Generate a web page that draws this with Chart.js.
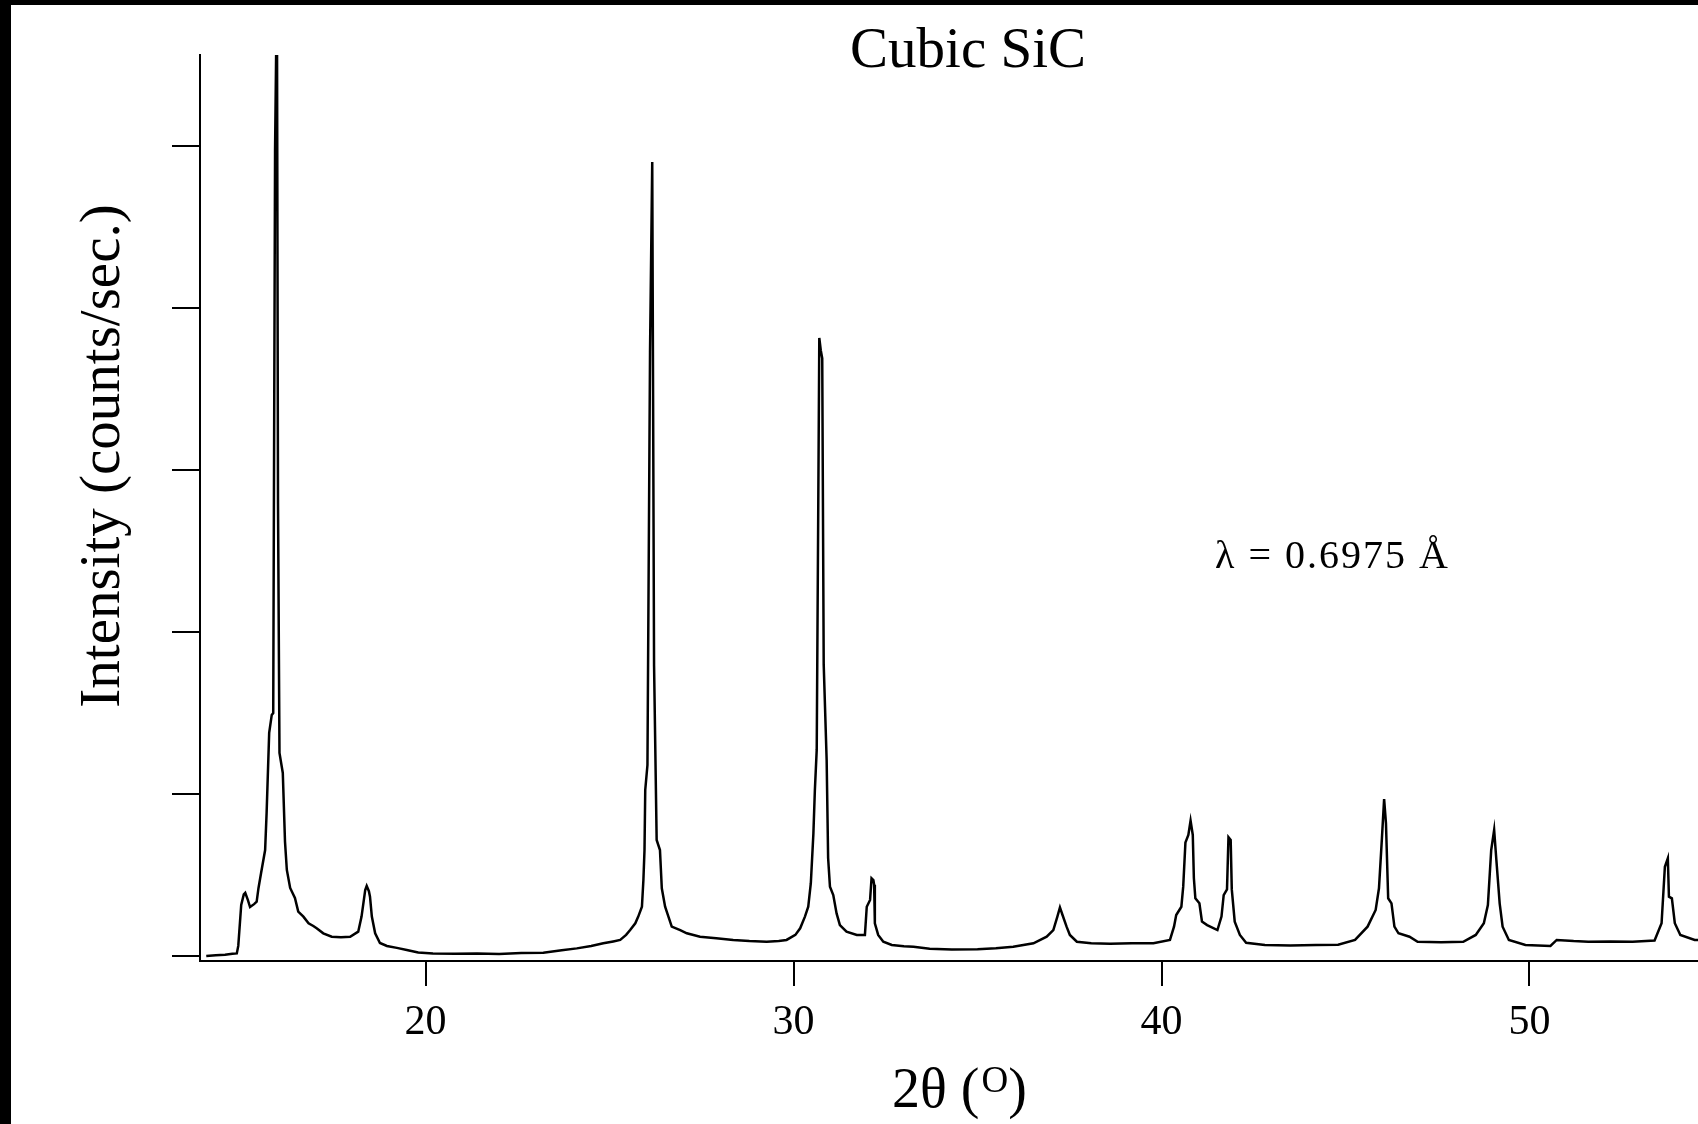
<!DOCTYPE html>
<html>
<head>
    <meta charset="utf-8" />
    <title>Cubic SiC</title>
    <script src="https://cdn.jsdelivr.net/npm/chart.js@4.4.1/dist/chart.umd.min.js"></script>
    <style>
        body, html {
            margin: 0;
            padding: 0;
            background: white;
            overflow: hidden;
        }
        canvas {
            display: block;
            background: white;
        }
    </style>
</head>
<body>
    <canvas id="xrdChart" width="1698" height="1124"></canvas>

    <script>
        // 2-theta (degrees)
        const twoTheta = [
            14.04, 14.30, 14.55, 14.75, 14.87, 14.91, 14.99, 15.06, 15.10, 15.17,
            15.23, 15.34, 15.41, 15.46, 15.53, 15.64, 15.68, 15.75, 15.82, 15.86,
            15.91, 15.96, 15.99, 16.03, 16.12, 16.18, 16.23, 16.32, 16.45, 16.54,
            16.68, 16.82, 16.95, 17.04, 17.22, 17.45, 17.70, 17.95, 18.17, 18.26,
            18.36, 18.40, 18.46, 18.49, 18.54, 18.63, 18.76, 18.95, 19.22, 19.49,
            19.80, 20.20, 20.80, 21.40, 22.00, 22.60, 23.20, 23.70, 24.11, 24.50,
            24.83, 25.10, 25.29, 25.45, 25.56, 25.70, 25.78, 25.88, 25.92, 25.95,
            25.97, 26.03, 26.10, 26.16, 26.21, 26.28, 26.37, 26.42, 26.51, 26.60,
            26.69, 26.92, 27.10, 27.46, 27.90, 28.36, 28.80, 29.27, 29.60, 29.81,
            30.05, 30.18, 30.31, 30.40, 30.47, 30.54, 30.58, 30.63, 30.67, 30.70,
            30.74, 30.78, 30.82, 30.90, 30.94, 30.99, 31.08, 31.17, 31.26, 31.44,
            31.72, 31.94, 31.99, 32.08, 32.12, 32.17, 32.19, 32.21, 32.30, 32.44,
            32.67, 33.00, 33.26, 33.70, 34.30, 35.00, 35.50, 35.97, 36.52, 36.88,
            37.06, 37.17, 37.24, 37.31, 37.42, 37.51, 37.70, 38.09, 38.60, 39.20,
            39.78, 40.23, 40.34, 40.40, 40.54, 40.59, 40.65, 40.73, 40.79, 40.85,
            40.88, 40.92, 41.03, 41.10, 41.24, 41.52, 41.63, 41.69, 41.78, 41.82,
            41.88, 41.91, 41.99, 42.13, 42.30, 42.81, 43.50, 44.20, 44.80, 45.26,
            45.60, 45.82, 45.91, 45.99, 46.05, 46.10, 46.16, 46.25, 46.33, 46.44,
            46.74, 46.96, 47.60, 48.20, 48.54, 48.76, 48.87, 48.96, 49.04, 49.10,
            49.19, 49.27, 49.44, 49.89, 50.57, 50.74, 51.20, 51.60, 52.20, 52.80,
            53.40, 53.59, 53.68, 53.76, 53.79, 53.87, 53.95, 54.10, 54.49, 54.60
        ];

        // intensity (counts/sec.), same order
        const intensity = [
            0, 5, 8, 14, 16, 62, 315, 380, 390, 346,
            302, 320, 335, 420, 512, 654, 882, 1377, 1488, 1500,
            4975, 6000, 2796, 1253, 1130, 706, 531, 420, 358, 274,
            243, 202, 185, 171, 140, 119, 115, 119, 150, 243,
            407, 432, 400, 366, 243, 140, 80, 62, 50, 37,
            22, 16, 14, 16, 12, 18, 20, 35, 47, 62,
            78, 90, 99, 130, 160, 202, 243, 304, 469, 654,
            1025, 1179, 3728, 4901, 1790, 716, 654, 418, 304, 243,
            181, 160, 140, 119, 110, 99, 92, 88, 92, 99,
            130, 171, 243, 304, 449, 757, 1025, 1272, 2700, 3815,
            3740, 3690, 1800, 1210, 605, 428, 376, 263, 191, 150,
            130, 130, 304, 346, 480, 469, 440, 202, 130, 88,
            68, 60, 57, 45, 40, 42, 48, 57, 78, 119,
            160, 243, 300, 253, 181, 130, 88, 78, 75, 78,
            78, 99, 181, 253, 304, 428, 700, 747, 835, 747,
            480, 356, 325, 212, 191, 160, 243, 376, 411, 733,
            716, 411, 212, 130, 82, 68, 65, 68, 70, 99,
            181, 284, 418, 726, 969, 819, 356, 325, 181, 140,
            119, 88, 85, 88, 130, 202, 315, 654, 778, 593,
            325, 181, 99, 68, 62, 99, 92, 88, 90, 88,
            95, 202, 551, 603, 366, 356, 202, 130, 99, 99
        ];

        const xTickValues = [20, 30, 40, 50];
        const yTickValues = [0, 1000, 2000, 3000, 4000, 5000];

        const chartTitle = 'Cubic SiC';
        const yTitle = 'Intensity (counts/sec.)';
        const xTitleMain = '2θ (';
        const xTitleSup = 'O';
        const xTitleEnd = ')';
        const noteText = 'λ = 0.6975 Å';

        const serif = '"Liberation Serif", "Times New Roman", serif';

        const paperPlugin = {
            id: 'paper',
            beforeDraw(chart) {
                const ctx = chart.ctx;
                ctx.save();
                ctx.fillStyle = '#fff';
                ctx.fillRect(0, 0, chart.width, chart.height);
                // black frame strips on top and left of the scan
                ctx.fillStyle = '#000';
                ctx.fillRect(0, 0, chart.width, 5);
                ctx.fillRect(0, 0, 11, chart.height);
                ctx.restore();
            },
            afterDraw(chart) {
                const ctx = chart.ctx;
                const xs = chart.scales.x;
                ctx.save();
                ctx.fillStyle = '#000';
                ctx.textBaseline = 'alphabetic';

                // title
                ctx.font = '57px ' + serif;
                ctx.textAlign = 'center';
                ctx.fillText(chartTitle, 968, 67);

                // x tick labels
                ctx.font = '42px ' + serif;
                xs.ticks.forEach(t => {
                    ctx.fillText(String(t.value), xs.getPixelForValue(t.value), 1034);
                });

                // x axis title with raised O
                ctx.textAlign = 'left';
                ctx.font = '56px ' + serif;
                let x = 892;
                ctx.fillText(xTitleMain, x, 1107);
                x += ctx.measureText(xTitleMain).width + 2;
                ctx.font = '37px ' + serif;
                ctx.fillText(xTitleSup, x, 1092);
                x += ctx.measureText(xTitleSup).width;
                ctx.font = '56px ' + serif;
                ctx.fillText(xTitleEnd, x, 1107);

                // y axis title
                ctx.save();
                ctx.translate(119, 456);
                ctx.rotate(-Math.PI / 2);
                ctx.textAlign = 'center';
                ctx.font = '57px ' + serif;
                ctx.fillText(yTitle, 0, 0);
                ctx.restore();

                // wavelength note
                ctx.textAlign = 'left';
                ctx.font = '40px ' + serif;
                ctx.letterSpacing = '2px';
                ctx.fillText(noteText, 1215, 568);

                ctx.restore();
            }
        };

        const points = twoTheta.map((t, i) => ({ x: t, y: intensity[i] }));

        const config = {
            type: 'line',
            data: {
                datasets: [{
                    label: 'Cubic SiC',
                    data: points,
                    borderColor: '#000',
                    borderWidth: 2.5,
                    pointRadius: 0,
                    tension: 0,
                    fill: false
                }]
            },
            options: {
                responsive: false,
                animation: false,
                devicePixelRatio: 1,
                layout: {
                    padding: { left: 200, top: 55, right: 0, bottom: 163 }
                },
                scales: {
                    x: {
                        type: 'linear',
                        min: 13.87,
                        max: 54.58,
                        afterBuildTicks: s => { s.ticks = xTickValues.map(v => ({ value: v })); },
                        afterFit: s => { s.height = 0; },
                        ticks: { display: false },
                        grid: {
                            drawOnChartArea: false,
                            drawTicks: true,
                            tickLength: 25,
                            color: '#000',
                            lineWidth: 2
                        },
                        border: { display: true, color: '#000', width: 2 }
                    },
                    y: {
                        type: 'linear',
                        min: -31,
                        max: 5562,
                        afterBuildTicks: s => { s.ticks = yTickValues.map(v => ({ value: v })); },
                        afterFit: s => { s.width = 0; },
                        ticks: { display: false },
                        grid: {
                            drawOnChartArea: false,
                            drawTicks: true,
                            tickLength: 28,
                            color: '#000',
                            lineWidth: 2
                        },
                        border: { display: true, color: '#000', width: 2 }
                    }
                },
                plugins: {
                    legend: { display: false },
                    title: { display: false },
                    tooltip: { enabled: false }
                }
            },
            plugins: [paperPlugin]
        };

        const ctx = document.getElementById('xrdChart').getContext('2d');
        new Chart(ctx, config);
    </script>
</body>
</html>
